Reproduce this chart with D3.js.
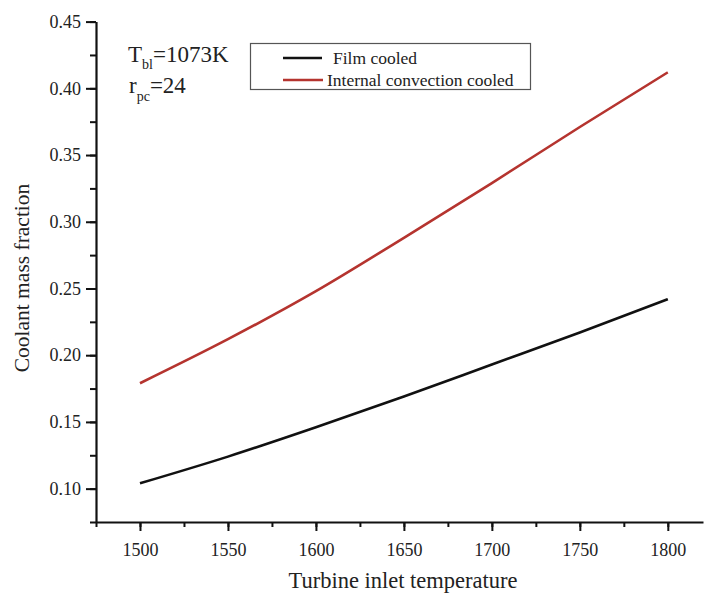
<!DOCTYPE html>
<html>
<head>
<meta charset="utf-8">
<script src="https://cdn.jsdelivr.net/npm/d3@7"></script>
<style>
  body { margin: 0; background: #fff; }
  svg text { font-family: "Liberation Serif", "Times New Roman", serif !important; }
</style>
</head>
<body>
<svg id="chart" width="704" height="594"></svg>
<script>
// data
var temps = [1500, 1550, 1600, 1650, 1700, 1750, 1800];
var filmCooled = [0.104, 0.124, 0.146, 0.169, 0.193, 0.217, 0.242];
var convCooled = [0.179, 0.212, 0.248, 0.288, 0.329, 0.371, 0.412];
var xTicks = [1500, 1550, 1600, 1650, 1700, 1750, 1800];
var yTicks = [0.10, 0.15, 0.20, 0.25, 0.30, 0.35, 0.40, 0.45];
var seriesNames = ["Film cooled", "Internal convection cooled"];
var seriesColors = ["#111111", "#b5342f"];

var svg = d3.select("#chart");

var x = d3.scaleLinear().domain([1475, 1820]).range([96, 703]);
var y = d3.scaleLinear().domain([0.075, 0.45]).range([522, 21.6]);

// minor ticks first so major ones draw over them
var xMinor = d3.range(1475, 1820, 25);
var yMinor = d3.range(0.075, 0.451, 0.025);

svg.append("g")
    .attr("transform", "translate(0,522)")
    .call(d3.axisBottom(x).tickValues(xMinor).tickSize(5).tickFormat(""))
    .call(function (g) { g.select(".domain").remove(); })
    .selectAll("line").attr("stroke", "#111").attr("stroke-width", 2);

svg.append("g")
    .attr("transform", "translate(96,0)")
    .call(d3.axisLeft(y).tickValues(yMinor).tickSize(6).tickFormat(""))
    .call(function (g) { g.select(".domain").remove(); })
    .selectAll("line").attr("stroke", "#111").attr("stroke-width", 2);

var xAxis = svg.append("g")
    .attr("transform", "translate(0,522)")
    .call(d3.axisBottom(x).tickValues(xTicks).tickSize(9).tickSizeOuter(0).tickPadding(12).tickFormat(d3.format("d")));
xAxis.select(".domain").attr("stroke", "#111").attr("stroke-width", 2.2);
xAxis.selectAll("line").attr("stroke", "#111").attr("stroke-width", 2);
xAxis.selectAll("text").attr("font-size", 18).attr("fill", "#222");

var yAxis = svg.append("g")
    .attr("transform", "translate(96,0)")
    .call(d3.axisLeft(y).tickValues(yTicks).tickSize(10).tickSizeOuter(0).tickPadding(5).tickFormat(d3.format(".2f")));
yAxis.select(".domain").attr("stroke", "#111").attr("stroke-width", 2.2);
yAxis.selectAll("line").attr("stroke", "#111").attr("stroke-width", 2);
yAxis.selectAll("text").attr("font-size", 18).attr("fill", "#222");

// axis titles
svg.append("text")
    .attr("x", 403).attr("y", 588)
    .attr("text-anchor", "middle")
    .attr("font-size", 22.5).attr("fill", "#222")
    .text("Turbine inlet temperature");

svg.append("text")
    .attr("transform", "translate(29,278) rotate(-90)")
    .attr("text-anchor", "middle")
    .attr("font-size", 21.5).attr("fill", "#222")
    .text("Coolant mass fraction");

// lines
var line = d3.line()
    .x(function (d, i) { return x(temps[i]); })
    .y(function (d) { return y(d); })
    .curve(d3.curveMonotoneX);

[filmCooled, convCooled].forEach(function (s, i) {
    svg.append("path")
        .datum(s)
        .attr("d", line)
        .attr("fill", "none")
        .attr("stroke", seriesColors[i])
        .attr("stroke-width", 2.6);
});

// annotation
var ann = svg.append("g").attr("fill", "#222");
var t1 = ann.append("text").attr("x", 128).attr("y", 62).attr("font-size", 23);
t1.append("tspan").text("T");
t1.append("tspan").attr("font-size", 14).attr("dy", 7).text("bl");
t1.append("tspan").attr("dy", -7).text("=1073K");
var t2 = ann.append("text").attr("x", 129).attr("y", 93).attr("font-size", 23);
t2.append("tspan").text("r");
t2.append("tspan").attr("font-size", 14).attr("dy", 8).text("pc");
t2.append("tspan").attr("dy", -8).text("=24");

// legend
var legend = svg.append("g");
legend.append("rect")
    .attr("x", 250.5).attr("y", 43.5).attr("width", 280).attr("height", 46)
    .attr("fill", "none").attr("stroke", "#555").attr("stroke-width", 1.2);
seriesNames.forEach(function (name, i) {
    var ly = 58 + i * 22;
    legend.append("line")
        .attr("x1", 283).attr("x2", i === 0 ? 322 : 323)
        .attr("y1", ly).attr("y2", ly)
        .attr("stroke", seriesColors[i]).attr("stroke-width", 2.6);
    legend.append("text")
        .attr("x", i === 0 ? 333 : 327).attr("y", ly + 6)
        .attr("font-size", 17.5).attr("fill", "#222")
        .text(name);
});
</script>
</body>
</html>
